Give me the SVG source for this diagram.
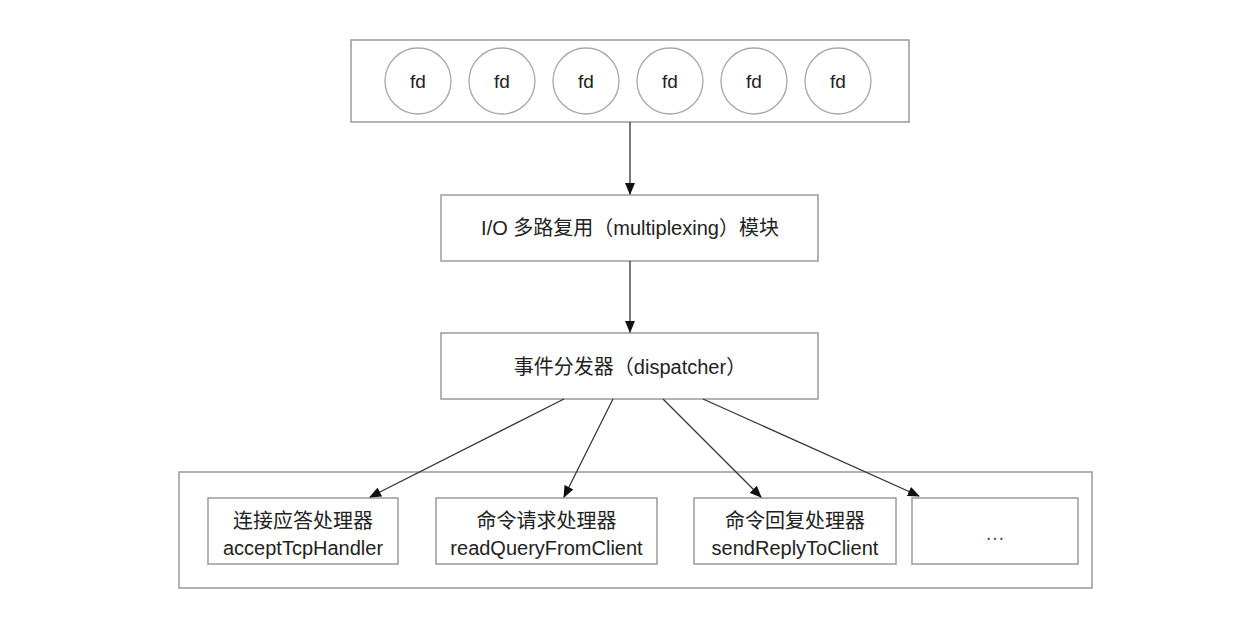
<svg xmlns="http://www.w3.org/2000/svg" width="1249" height="627" viewBox="0 0 1249 627">
<style>
.box{fill:#fff;stroke:#9a9a9a;stroke-width:1.5}
.circ{fill:#fff;stroke:#a8a8a8;stroke-width:1.3}
.t{font-family:"Liberation Sans","Noto Sans CJK SC",sans-serif;font-size:20px;fill:#222;text-anchor:middle}
.fd{font-family:"Liberation Sans",sans-serif;font-size:19px;fill:#222;text-anchor:middle}
.conn{stroke:#333;stroke-width:1.3;fill:none;marker-end:url(#ah)}
</style>
<defs>
<marker id="ah" markerWidth="12" markerHeight="10" refX="11" refY="5" orient="auto" markerUnits="userSpaceOnUse">
<path d="M0,0 L12,5 L0,10 Z" fill="#111"/>
</marker>
</defs>
<rect width="1249" height="627" fill="#fff"/>
<g id="fds">
<rect class="box" x="351" y="40" width="558" height="82"/>
<g id="fd1"><circle class="circ" cx="418" cy="81" r="33"/><text class="fd" x="418" y="88">fd</text></g>
<g id="fd2"><circle class="circ" cx="502" cy="81" r="33"/><text class="fd" x="502" y="88">fd</text></g>
<g id="fd3"><circle class="circ" cx="586" cy="81" r="33"/><text class="fd" x="586" y="88">fd</text></g>
<g id="fd4"><circle class="circ" cx="670" cy="81" r="33"/><text class="fd" x="670" y="88">fd</text></g>
<g id="fd5"><circle class="circ" cx="754" cy="81" r="33"/><text class="fd" x="754" y="88">fd</text></g>
<g id="fd6"><circle class="circ" cx="838" cy="81" r="33"/><text class="fd" x="838" y="88">fd</text></g>
</g>
<g id="mux">
<rect class="box" x="441" y="195" width="377" height="66"/>
<text class="t" x="630" y="235">I/O 多路复用（multiplexing）模块</text>
</g>
<g id="dispatcher">
<rect class="box" x="441" y="333" width="377" height="66"/>
<text class="t" x="630" y="374">事件分发器（dispatcher）</text>
</g>
<g id="handlers">
<rect class="box" x="179" y="472" width="913" height="116"/>
</g>
<g id="h1">
<rect class="box" x="208" y="498" width="190" height="66"/>
<text class="t" x="303" y="528">连接应答处理器</text>
<text class="t" x="303" y="555">acceptTcpHandler</text>
</g>
<g id="h2">
<rect class="box" x="436" y="498" width="221" height="66"/>
<text class="t" x="546.5" y="528">命令请求处理器</text>
<text class="t" x="546.5" y="555">readQueryFromClient</text>
</g>
<g id="h3">
<rect class="box" x="694" y="498" width="202" height="66"/>
<text class="t" x="795" y="528">命令回复处理器</text>
<text class="t" x="795" y="555">sendReplyToClient</text>
</g>
<g id="h4">
<rect class="box" x="912" y="498" width="166" height="66"/>
<text class="t" x="995" y="540" style="fill:#555">…</text>
</g>
<g id="connectors">
<line class="conn" x1="630" y1="122" x2="630" y2="194"/>
<line class="conn" x1="630" y1="261" x2="630" y2="332"/>
<line class="conn" x1="564" y1="399" x2="370" y2="497"/>
<line class="conn" x1="613" y1="399" x2="564" y2="497"/>
<line class="conn" x1="663" y1="399" x2="761" y2="497"/>
<line class="conn" x1="703" y1="399" x2="919" y2="496"/>
</g>
</svg>
